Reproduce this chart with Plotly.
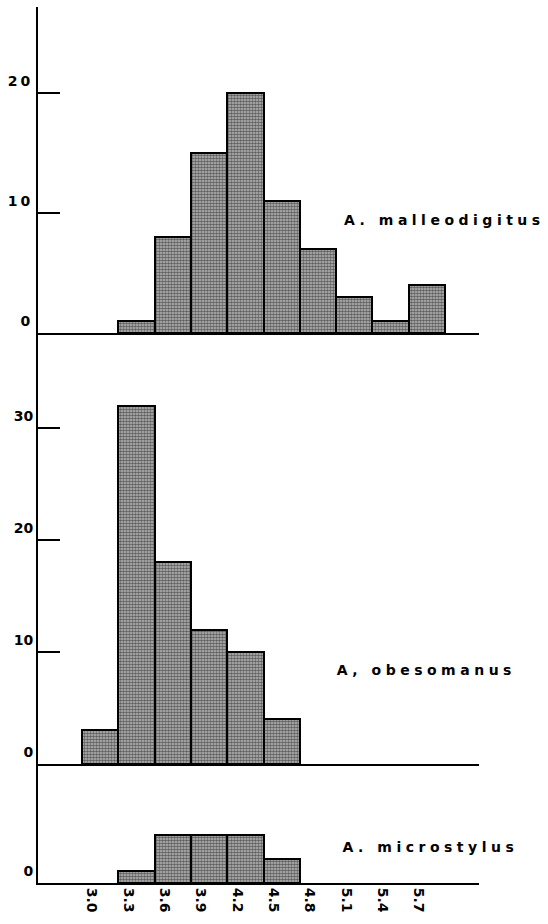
import plotly.graph_objects as go
from plotly.subplots import make_subplots

# ---- data ----
BIN_WIDTH = 0.3
bin_starts = [3.0, 3.3, 3.6, 3.9, 4.2, 4.5, 4.8, 5.1, 5.4, 5.7]
bin_labels = ["3.0", "3.3", "3.6", "3.9", "4.2", "4.5", "4.8", "5.1", "5.4", "5.7"]
malleodigitus = [0, 1, 8, 15, 20, 11, 7, 3, 1, 4]
obesomanus = [3, 32, 18, 12, 10, 4, 0, 0, 0, 0]
microstylus = [0, 1, 4, 4, 4, 2, 0, 0, 0, 0]
species_labels = ["A. malleodigitus", "A, obesomanus", "A. microstylus"]
y_ticks = [[0, 10, 20], [0, 10, 20, 30], [0]]
y_ranges = [[0, 27.2], [0, 38.5], [0, 9.9]]

FONT = "DejaVu Sans"

fig = make_subplots(rows=3, cols=1, shared_xaxes=True, vertical_spacing=0,
                    row_heights=[326, 431, 119])

centers = [b + BIN_WIDTH / 2 for b in bin_starts]
for r, series in enumerate([malleodigitus, obesomanus, microstylus], start=1):
    fig.add_trace(go.Bar(
        x=centers,
        y=[v if v else None for v in series],
        width=BIN_WIDTH,
        marker=dict(color="#bdbdbd",
                    line=dict(color="black", width=2),
                    pattern=dict(shape=".", size=3, solidity=0.6,
                                 fgcolor="#000000", bgcolor="#bdbdbd")),
        showlegend=False,
        hoverinfo="skip",
    ), row=r, col=1)

for r in range(1, 4):
    fig.update_xaxes(row=r, col=1, range=[2.636, 6.281], showline=True,
                     linecolor="black", linewidth=2, showgrid=False,
                     zeroline=False, ticks="", tickvals=bin_starts,
                     ticktext=bin_labels, tickangle=90, ticklabelshift=10,
                     tickfont=dict(family=FONT, size=14, color="black", weight="bold"))
    fig.update_yaxes(row=r, col=1, range=y_ranges[r - 1], tickvals=y_ticks[r - 1],
                     showline=True, linecolor="black", linewidth=2,
                     showgrid=False, zeroline=False, ticks="inside",
                     ticklen=22, tickwidth=2, tickcolor="black",
                     ticklabelshift=-12,
                     tickfont=dict(family=FONT, size=14, color="black", weight="bold"))

ann_pos = [(0.922, 0.7568), (0.881, 0.2432), (0.890, 0.0411)]
for text, (ax, ay) in zip(species_labels, ann_pos):
    fig.add_annotation(text=text, xref="paper", yref="paper", x=ax, y=ay,
                       xanchor="center", yanchor="middle", showarrow=False,
                       font=dict(family=FONT, size=14, color="black", weight="bold"))

fig.update_layout(
    width=548, height=924,
    margin=dict(l=38, r=69, t=7, b=41),
    paper_bgcolor="white", plot_bgcolor="white",
    bargap=0,
)

post = """
document.body.style.margin = '0';
document.body.style.overflow = 'hidden';
var gd = document.getElementById('{plot_id}');
gd.querySelectorAll('.annotation-text').forEach(function(t){t.style.letterSpacing='4.5px';});
gd.querySelectorAll('.ytick text').forEach(function(t){t.style.letterSpacing='3px';});
gd.querySelectorAll('.xtick text').forEach(function(t){t.style.letterSpacing='2px';});
"""
fig.write_html("out.html", post_script=post, config={"displayModeBar": False})
